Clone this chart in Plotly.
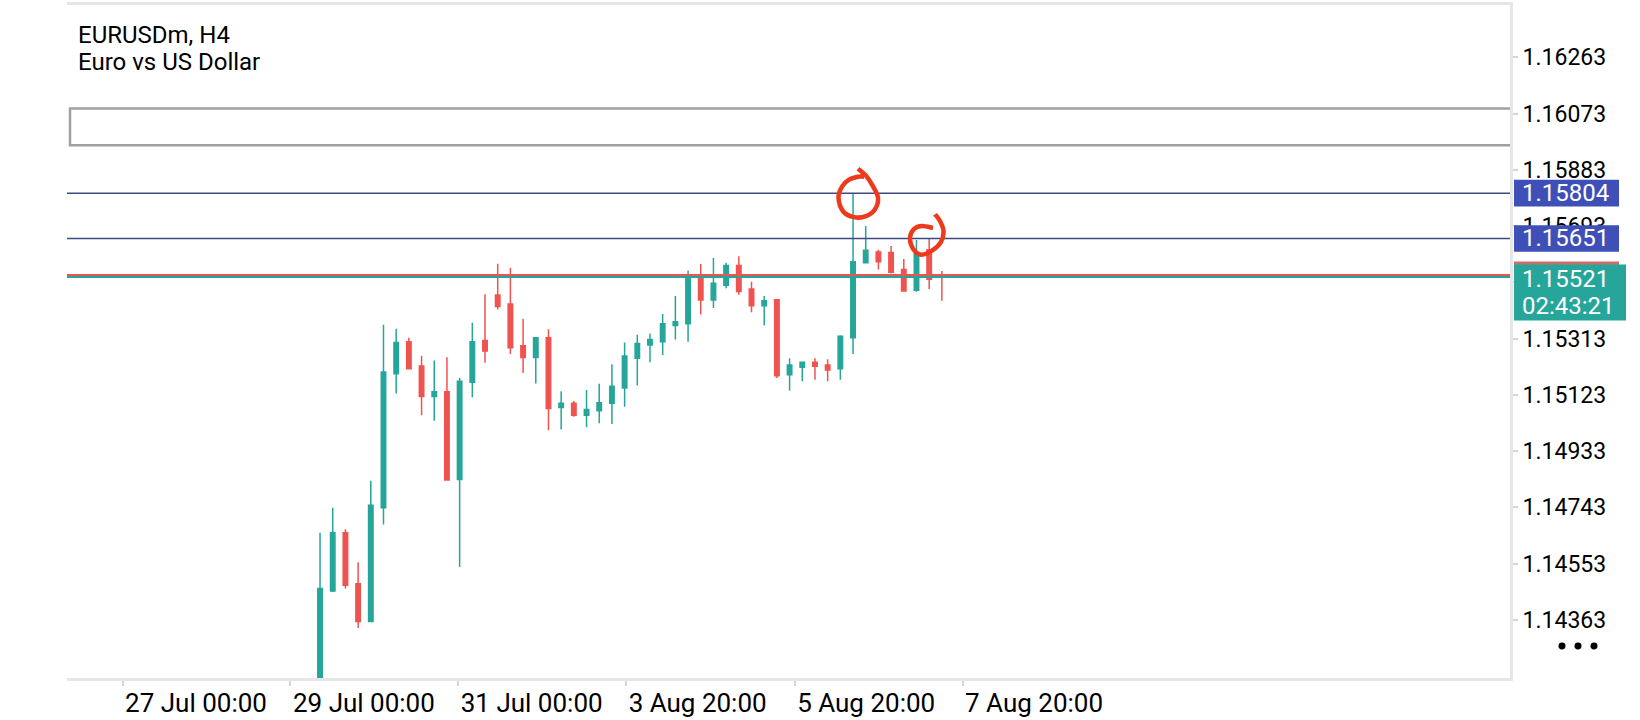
import plotly.graph_objects as go

# ---------------- data ----------------
opens = [1.14110, 1.14460, 1.14657, 1.14485, 1.14357, 1.14741, 1.15194, 1.15302, 1.15220, 1.15117,
         1.15133, 1.14837, 1.15165, 1.15306, 1.15460, 1.15430, 1.15289, 1.15249, 1.15316, 1.15080,
         1.15094, 1.15054, 1.15069, 1.15094, 1.15146, 1.15246, 1.15291, 1.15302, 1.15357, 1.15363,
         1.15519, 1.15443, 1.15493, 1.15560, 1.15480, 1.15424, 1.15444, 1.15191, 1.15216, 1.15233,
         1.15224, 1.15211, 1.15316, 1.15569, 1.15605, 1.15604, 1.15546, 1.15476, 1.15613, 1.15526]
highs = [1.14657, 1.14741, 1.14669, 1.14557, 1.14833, 1.15360, 1.15346, 1.15316, 1.15255, 1.15239,
         1.15250, 1.15180, 1.15366, 1.15463, 1.15566, 1.15552, 1.15380, 1.15318, 1.15344, 1.15135,
         1.15102, 1.15139, 1.15160, 1.15226, 1.15300, 1.15326, 1.15330, 1.15396, 1.15457, 1.15543,
         1.15565, 1.15585, 1.15569, 1.15591, 1.15505, 1.15457, 1.15446, 1.15246, 1.15235, 1.15246,
         1.15243, 1.15324, 1.15804, 1.15693, 1.15613, 1.15626, 1.15582, 1.15646, 1.15651, 1.15541]
lows = [1.14080, 1.14457, 1.14469, 1.14335, 1.14355, 1.14685, 1.15127, 1.15209, 1.15054, 1.15035,
        1.14833, 1.14541, 1.15115, 1.15231, 1.15411, 1.15261, 1.15197, 1.15161, 1.15003, 1.15006,
        1.15049, 1.15013, 1.15027, 1.15024, 1.15083, 1.15154, 1.15233, 1.15257, 1.15310, 1.15302,
        1.15394, 1.15416, 1.15483, 1.15461, 1.15402, 1.15357, 1.15180, 1.15137, 1.15169, 1.15174,
        1.15169, 1.15174, 1.15261, 1.15567, 1.15546, 1.15533, 1.15472, 1.15471, 1.15480, 1.15441]
closes = [1.14469, 1.14657, 1.14480, 1.14357, 1.14750, 1.15200, 1.15300, 1.15211, 1.15117, 1.15133,
          1.14835, 1.15169, 1.15302, 1.15271, 1.15421, 1.15282, 1.15249, 1.15316, 1.15077, 1.15094,
          1.15054, 1.15073, 1.15096, 1.15152, 1.15254, 1.15296, 1.15310, 1.15363, 1.15370, 1.15516,
          1.15443, 1.15500, 1.15560, 1.15472, 1.15424, 1.15441, 1.15187, 1.15224, 1.15233, 1.15219,
          1.15207, 1.15321, 1.15572, 1.15611, 1.15572, 1.15537, 1.15474, 1.15599, 1.15513, 1.15521]
bars = list(range(len(opens)))

time_labels = ["27 Jul 00:00", "29 Jul 00:00", "31 Jul 00:00", "3 Aug 20:00", "5 Aug 20:00", "7 Aug 20:00"]
time_label_bars = [-15.56, -2.33, 10.89, 24.12, 37.40, 50.63]

price_ticks = [1.16263, 1.16073, 1.15883, 1.15693, 1.15503, 1.15313, 1.15123, 1.14933, 1.14743, 1.14553, 1.14363]
# 1.15503 sits fully under the current-price label in the reference, so its text is not shown
price_tick_text = ["1.16263", "1.16073", "1.15883", "1.15693", "", "1.15313", "1.15123", "1.14933",
                   "1.14743", "1.14553", "1.14363"]

level_high = 1.15804
level_second = 1.15651
bid = 1.15521
ask = 1.15528
box_low, box_high = 1.15966, 1.16090
countdown = "02:43:21"
symbol = "EURUSDm, H4"
description = "Euro vs US Dollar"

# ---------------- geometry helpers ----------------
W, H = 1640, 720
PL, PR, PT, PB = 67, 1510, 2, 684
Y_MIN, Y_MAX = 1.141663, 1.164397
X_MIN, X_MAX = -19.94, 93.77
PX_PER_PRICE = (PB - PT) / (Y_MAX - Y_MIN)


def px2x(px):
    return (px - PL) / (PR - PL)


def py2y(py):
    return (PB - py) / (PB - PT)


def smooth_path(points):
    pts = [(px2x(a), py2y(b)) for a, b in points]
    d = "M %.5f,%.5f" % pts[0]
    n = len(pts)
    for i in range(n - 1):
        p0 = pts[i - 1] if i > 0 else pts[i]
        p1 = pts[i]
        p2 = pts[i + 1]
        p3 = pts[i + 2] if i + 2 < n else pts[i + 1]
        c1 = (p1[0] + (p2[0] - p0[0]) / 6, p1[1] + (p2[1] - p0[1]) / 6)
        c2 = (p2[0] - (p3[0] - p1[0]) / 6, p2[1] - (p3[1] - p1[1]) / 6)
        d += " C %.5f,%.5f %.5f,%.5f %.5f,%.5f" % (c1[0], c1[1], c2[0], c2[1], p2[0], p2[1])
    return d


GREEN = "#26a69a"
RED = "#ef5350"
BLUE_LINE = "#3f4b80"
BLUE_BOX = "#3f4fb8"
FONT = "Roboto"

fig = go.Figure()
fig.add_trace(go.Candlestick(
    x=bars, open=opens, high=highs, low=lows, close=closes,
    increasing=dict(line=dict(color=GREEN, width=1.5), fillcolor=GREEN),
    decreasing=dict(line=dict(color=RED, width=1.5), fillcolor=RED),
    whiskerwidth=0, hoverinfo="skip", showlegend=False,
))

shapes = []
# rectangle object (its right edge lies on the chart border)
rx0 = px2x(70)
ry0 = py2y(PB - (box_low - Y_MIN) * PX_PER_PRICE)
ry1 = py2y(PB - (box_high - Y_MIN) * PX_PER_PRICE)
shapes.append(dict(type="path", xref="paper", yref="paper",
                   path="M 1,%.5f L %.5f,%.5f L %.5f,%.5f L 1,%.5f" % (ry1, rx0, ry1, rx0, ry0, ry0),
                   line=dict(color="#a0a0a0", width=2.5)))
# horizontal levels
for lvl in (level_high, level_second):
    shapes.append(dict(type="line", xref="paper", yref="y", x0=0, x1=1, y0=lvl, y1=lvl,
                       line=dict(color=BLUE_LINE, width=1.5)))
shapes.append(dict(type="line", xref="paper", yref="y", x0=0, x1=1, y0=ask, y1=ask,
                   line=dict(color=RED, width=2)))
shapes.append(dict(type="line", xref="paper", yref="y", x0=0, x1=1, y0=bid, y1=bid,
                   line=dict(color=GREEN, width=2)))

# price label boxes on the right axis
half = 13.5 / PX_PER_PRICE
for lvl in (level_high, level_second):
    shapes.append(dict(type="rect", xref="paper", yref="y", x0=px2x(1514), x1=px2x(1619),
                       y0=lvl - half, y1=lvl + half, line=dict(width=0), fillcolor=BLUE_BOX,
                       layer="above"))
shapes.append(dict(type="rect", xref="paper", yref="y", x0=px2x(1514), x1=px2x(1619),
                   y0=ask - half, y1=ask + half, line=dict(width=0), fillcolor="#c9706b", layer="above"))
shapes.append(dict(type="rect", xref="paper", yref="y", x0=px2x(1514), x1=px2x(1626),
                   y0=bid - 44 / PX_PER_PRICE, y1=bid + 12.6 / PX_PER_PRICE,
                   line=dict(width=0), fillcolor=GREEN, layer="above"))

# hand-drawn red circles
circle1 = [(858, 168), (866, 175), (872, 184), (878, 197), (875, 209), (866, 216), (854, 217),
           (843, 211), (838.5, 197), (842, 186), (849, 179), (858, 176), (864, 176)]
circle2 = [(935, 214), (940, 221), (943.5, 231), (941, 242), (932, 251), (921, 255), (913, 249),
           (910, 238), (914, 229), (922, 226), (933, 228)]
for c in (circle1, circle2):
    shapes.append(dict(type="path", xref="paper", yref="paper", path=smooth_path(c),
                       line=dict(color="#ee3a1c", width=4.5), layer="above"))

# "..." menu dots
for cx in (1562, 1578, 1594):
    shapes.append(dict(type="circle", xref="paper", yref="paper",
                       x0=px2x(cx - 3.5), x1=px2x(cx + 3.5), y0=py2y(651.5 + 3.5), y1=py2y(651.5 - 3.5),
                       fillcolor="#000", line=dict(width=0), layer="above"))

annotations = [
    dict(text=symbol, xref="paper", yref="paper", x=px2x(76), y=py2y(32), xanchor="left",
         yanchor="middle", showarrow=False, font=dict(family=FONT, size=24, color="#000")),
    dict(text=description, xref="paper", yref="paper", x=px2x(76), y=py2y(60), xanchor="left",
         yanchor="middle", showarrow=False, font=dict(family=FONT, size=24, color="#000")),
]
for lvl in (level_high, level_second):
    annotations.append(dict(text="%.5f" % lvl, xref="paper", yref="y", x=px2x(1520), y=lvl,
                            xanchor="left", yanchor="middle", showarrow=False,
                            font=dict(family=FONT, size=24, color="#fff")))
annotations.append(dict(text="%.5f" % bid, xref="paper", yref="y", x=px2x(1520),
                        y=bid - 2 / PX_PER_PRICE, xanchor="left", yanchor="middle", showarrow=False,
                        font=dict(family=FONT, size=24, color="#fff")))
annotations.append(dict(text=countdown, xref="paper", yref="y", x=px2x(1520),
                        y=bid - 29 / PX_PER_PRICE, xanchor="left", yanchor="middle", showarrow=False,
                        font=dict(family=FONT, size=24, color="#fff")))

fig.update_layout(
    width=W, height=H,
    margin=dict(l=PL, r=W - PR, t=PT, b=H - PB, pad=0),
    paper_bgcolor="#fff", plot_bgcolor="#fff",
    boxgap=0.5,
    showlegend=False,
    shapes=shapes,
    annotations=annotations,
    xaxis=dict(range=[X_MIN, X_MAX], rangeslider=dict(visible=False), showgrid=False,
               zeroline=False, showline=True, mirror=True, linecolor="#e6e6e6", linewidth=3,
               tickvals=time_label_bars, ticktext=time_labels, ticks="outside", ticklen=5,
               tickcolor="#d6d6d6", tickwidth=2, ticklabelposition="outside right",
               tickfont=dict(family=FONT, size=26, color="#000"), fixedrange=True),
    yaxis=dict(range=[Y_MIN, Y_MAX], side="right", showgrid=False, zeroline=False,
               showline=True, linecolor="#e6e6e6", linewidth=3,
               tickvals=price_ticks, ticktext=price_tick_text,
               ticks="outside", ticklen=5, tickcolor="#d6d6d6", tickwidth=2,
               tickfont=dict(family=FONT, size=23, color="#000"), fixedrange=True),
)

fig.write_html("out.html", config={"displayModeBar": False},
               post_script="document.body.style.margin='0';")
